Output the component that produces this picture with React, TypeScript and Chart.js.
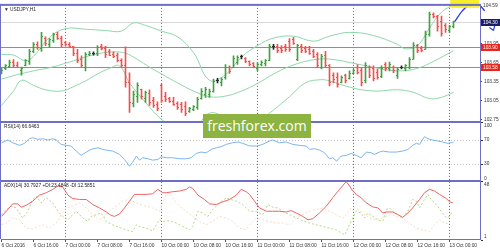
import React, { useEffect, useRef } from "react";
import { Chart, registerables } from "chart.js";

Chart.register(...registerables);

const FONT = "'Liberation Sans', Arial, sans-serif";

const chartTitle = "\u25BC USDJPY,H1";
const rsiLegend = "RSI(14) 66.6463";
const adxLegend = "ADX(14) 30.7927 +DI:23.4848 -DI:12.5851";
const logoText = "freshforex.com";

const dateTickIdx = [0, 8, 16, 24, 32, 40, 48, 56, 64, 72, 80, 88, 96, 104, 112];
const dateTickLabels = [
  "6 Oct 2016", "6 Oct 16:00", "7 Oct 00:00", "7 Oct 08:00", "7 Oct 16:00",
  "10 Oct 00:00", "10 Oct 08:00", "10 Oct 16:00", "11 Oct 00:00", "11 Oct 08:00",
  "11 Oct 16:00", "12 Oct 00:00", "12 Oct 08:00", "12 Oct 16:00", "13 Oct 00:00",
];
const dayStarts = [16, 40, 64, 88, 112];

const priceTicks = [104.25, 103.95, 103.65, 103.35, 103.05, 102.75];
const rsiTicks = [100, 70, 30, 0];
const rsiLevels = [70, 30];
const adxTicks = [48, 1];

const levelPrices = [103.9, 103.58];
const levelLabels = ["103.90", "103.58"];
const bidPrice = 104.3;
const bidLabel = "104.30";
const topPrice = 104.59;
const topLabel = "104.59";
const noteBoxFrom = 112.2;
const noteBoxPrice = 104.52;

// OHLC, hourly bars from 6 Oct 08:00
const barOpen = [
  103.49, 103.55, 103.59, 103.66, 103.61, 103.52, 103.61, 103.67, 103.83, 103.93,
  103.88, 104.04, 103.94, 104.0, 104.1, 104.04, 103.97, 103.94, 103.9, 103.8,
  103.7, 103.58, 103.78, 103.79, 103.79, 103.9, 103.88, 103.82, 103.78, 103.76,
  103.69, 103.6, 103.33, 103.0, 103.12, 103.22, 103.08, 103.16, 103.05, 102.98,
  103.28, 103.12, 103.08, 103.04, 103.0, 102.98, 102.95, 102.87, 102.91, 102.94,
  103.08, 103.15, 103.14, 103.2, 103.36, 103.33, 103.41, 103.57, 103.58, 103.66,
  103.74, 103.72, 103.67, 103.63, 103.56, 103.62, 103.63, 103.69, 103.9, 103.91,
  103.88, 103.9, 103.98, 104.02, 103.7, 103.91, 103.88, 103.86, 103.82, 103.78,
  103.58, 103.76, 103.6, 103.45, 103.42, 103.34, 103.44, 103.4, 103.48, 103.58,
  103.52, 103.36, 103.58, 103.55, 103.5, 103.43, 103.62, 103.55, 103.58, 103.45,
  103.57, 103.55, 103.58, 103.7, 103.92, 103.88, 103.86, 104.1, 104.42, 104.38,
  104.3, 104.24, 104.16, 104.22,
];
const barHigh = [
  103.57, 103.62, 103.69, 103.7, 103.66, 103.58, 103.7, 103.86, 103.97, 103.98,
  104.13, 104.06, 104.03, 104.12, 104.13, 104.07, 103.99, 103.97, 103.91, 103.86,
  103.76, 103.81, 103.83, 103.82, 103.92, 103.94, 103.91, 103.86, 103.82, 103.8,
  103.71, 103.9, 103.49, 103.2, 103.33, 103.23, 103.2, 103.22, 103.1, 103.03,
  103.31, 103.18, 103.1, 103.1, 103.03, 103.02, 103.03, 102.94, 102.97, 103.1,
  103.24, 103.26, 103.23, 103.39, 103.4, 103.41, 103.62, 103.6, 103.76, 103.76,
  103.77, 103.73, 103.68, 103.65, 103.65, 103.68, 103.7, 103.94, 103.94, 103.94,
  103.92, 103.94, 104.03, 104.05, 103.94, 103.94, 103.91, 103.91, 103.86, 103.81,
  103.78, 103.83, 103.62, 103.49, 103.49, 103.44, 103.47, 103.52, 103.55, 103.62,
  103.57, 103.65, 103.6, 103.6, 103.55, 103.6, 103.65, 103.66, 103.6, 103.57,
  103.6, 103.62, 103.73, 103.97, 103.94, 103.91, 104.15, 104.45, 104.44, 104.4,
  104.39, 104.27, 104.24, 104.31,
];
const barLow = [
  103.47, 103.54, 103.57, 103.57, 103.57, 103.45, 103.6, 103.62, 103.81, 103.86,
  103.83, 103.92, 103.89, 103.97, 104.02, 103.9, 103.91, 103.89, 103.76, 103.65,
  103.57, 103.52, 103.76, 103.77, 103.76, 103.85, 103.73, 103.76, 103.73, 103.66,
  103.57, 103.26, 102.86, 102.95, 103.02, 103.07, 103.02, 102.97, 102.94, 102.89,
  103.02, 103.03, 103.02, 102.97, 102.91, 102.86, 102.81, 102.86, 102.89, 102.91,
  103.07, 103.1, 103.1, 103.18, 103.33, 103.28, 103.39, 103.48, 103.57, 103.62,
  103.71, 103.65, 103.6, 103.57, 103.52, 103.6, 103.6, 103.68, 103.86, 103.81,
  103.81, 103.83, 103.83, 103.94, 103.68, 103.81, 103.81, 103.78, 103.73, 103.57,
  103.55, 103.57, 103.28, 103.33, 103.26, 103.33, 103.33, 103.39, 103.47, 103.47,
  103.28, 103.33, 103.41, 103.36, 103.39, 103.41, 103.52, 103.52, 103.49, 103.4,
  103.55, 103.52, 103.55, 103.7, 103.81, 103.82, 103.86, 104.07, 104.36, 104.15,
  104.07, 104.13, 104.13, 104.2,
];
const barClose = [
  103.53, 103.6, 103.66, 103.6, 103.58, 103.56, 103.68, 103.83, 103.93, 103.89,
  104.06, 103.95, 104.01, 104.1, 104.04, 103.93, 103.93, 103.9, 103.79, 103.68,
  103.6, 103.78, 103.8, 103.79, 103.89, 103.87, 103.78, 103.77, 103.75, 103.69,
  103.6, 103.33, 103.02, 103.15, 103.28, 103.12, 103.17, 103.02, 102.97, 102.92,
  103.05, 103.06, 103.03, 102.99, 102.94, 102.9, 102.84, 102.92, 102.95, 103.06,
  103.2, 103.22, 103.2, 103.35, 103.36, 103.39, 103.58, 103.51, 103.72, 103.73,
  103.74, 103.67, 103.62, 103.59, 103.62, 103.66, 103.68, 103.9, 103.9, 103.85,
  103.84, 103.86, 103.86, 103.96, 103.92, 103.84, 103.83, 103.8, 103.75, 103.6,
  103.74, 103.6, 103.33, 103.38, 103.3, 103.41, 103.36, 103.48, 103.53, 103.5,
  103.34, 103.6, 103.45, 103.4, 103.42, 103.56, 103.55, 103.62, 103.52, 103.54,
  103.57, 103.6, 103.7, 103.92, 103.85, 103.84, 104.1, 104.42, 104.38, 104.22,
  104.12, 104.17, 104.22, 104.3,
];

// Bollinger bands: [bar index, price]
const bbUpper: [number, number][] = [
  [0, 103.78], [3, 103.77], [6, 103.68], [8, 103.75], [12, 104.05], [16, 104.19], [21, 104.18],
  [26, 104.16], [30, 104.15], [33, 104.28], [36, 104.24], [40, 104.15], [44, 104.06], [48, 103.81],
  [52, 103.37], [56, 103.46], [60, 103.74], [64, 103.92], [68, 104.04], [73, 104.07], [78, 103.99],
  [82, 104.07], [87, 104.13], [93, 104.08], [99, 103.94], [101, 103.87], [104, 103.92], [107, 104.2],
  [110, 104.45], [113, 104.57],
];
const bbMiddle: [number, number][] = [
  [0, 103.39], [4, 103.46], [8, 103.52], [12, 103.57], [16, 103.64], [20, 103.72], [24, 103.79],
  [28, 103.82], [31, 103.8], [34, 103.7], [37, 103.58], [40, 103.47], [44, 103.33], [48, 103.2],
  [52, 103.11], [56, 103.12], [60, 103.2], [64, 103.32], [68, 103.47], [72, 103.59], [76, 103.67],
  [80, 103.71], [84, 103.69], [88, 103.64], [92, 103.59], [96, 103.54], [100, 103.52], [104, 103.56],
  [108, 103.67], [113, 103.84],
];
const bbLower: [number, number][] = [
  [0, 102.97], [3, 103.2], [5, 103.37], [8, 103.29], [11, 103.22], [15, 103.2], [18, 103.27],
  [21, 103.36], [24, 103.47], [27, 103.56], [29.5, 103.6], [32, 103.33], [36, 103.02], [40, 102.75],
  [44, 102.6], [48, 102.59], [52, 102.85], [56, 102.78], [60, 102.66], [64, 102.72], [68, 102.9],
  [72, 103.11], [76, 103.33], [80, 103.38], [82, 103.36], [86, 103.28], [90, 103.22], [94, 103.2],
  [99, 103.22], [103, 103.18], [107, 103.08], [110, 103.1], [113, 103.18],
];

// hand-drawn forecast arrow
const forecastPath: [number, number][] = [
  [113.3, 104.3], [115.2, 104.47], [117, 104.57], [119, 104.58], [120.8, 104.47], [122, 104.33], [123, 104.16],
];

const rsiLine: [number, number][] = [
  [0, 65.5], [1.6, 70.1], [2.8, 65.5], [4.5, 61], [5.75, 64.4], [7, 72.3], [7.8, 74], [9.1, 71.2],
  [10.3, 72.3], [11.6, 70.1], [12.8, 72.3], [13.7, 70.1], [14.9, 62.7], [16.2, 61], [17.4, 59.8],
  [18.7, 51.3], [19.9, 43.9], [21.2, 49.6], [22.4, 54.1], [24.1, 57], [25.3, 54.1], [26.2, 53],
  [27.8, 51.3], [29.5, 45.6], [30.75, 37], [32, 25.6], [32.8, 32.5], [33.7, 42.7], [34.5, 35.9],
  [35.3, 39.9], [36.6, 38.2], [37.8, 35.9], [39.1, 37], [39.9, 41.6], [41.2, 39.9], [42.8, 39.9],
  [44.5, 38.2], [46.2, 38.2], [47.4, 39.9], [48.7, 47.3], [49.9, 49.6], [51.2, 48.4], [52.4, 54.1],
  [53.7, 57], [54.9, 58.7], [56.2, 62.7], [57.8, 65.5], [59.1, 66.7], [60.3, 64.4], [62, 60],
  [63.7, 59.8], [65.3, 62.7], [67, 68.4], [67.8, 70.1], [69.5, 65.5], [71.2, 66.7], [72.8, 62.7],
  [74.5, 61], [76.2, 59.8], [77, 54.1], [78.25, 55.3], [79.5, 53], [80.75, 48.4], [82, 38.2],
  [82.8, 39.9], [83.8, 34.2], [84.9, 42.7], [86.2, 43.9], [87.4, 47.3], [88.7, 43.9], [89.9, 39.9],
  [91.2, 49.6], [92.4, 48.4], [93.25, 45.6], [94.5, 49.6], [95.3, 51.3], [97, 49.6], [98.7, 49.6],
  [100.3, 51.3], [101.6, 54.1], [102.8, 61], [103.7, 64.4], [104.5, 62.7], [105.75, 75.8],
  [106.6, 72.3], [107.8, 70.1], [109.1, 68.4], [110.3, 66.7], [111.6, 64.4], [112.4, 65.5], [113, 66.6],
];

const adxLine: [number, number][] = [
  [0, 19.9], [1.2, 24], [2.8, 29.9], [4.1, 29.9], [4.9, 27.2], [6.2, 28.8], [7.8, 32.05], [9.5, 36.9],
  [11.2, 38.8], [12.8, 41.5], [14.1, 44.2], [15.3, 43.4], [16.6, 36.9], [17.8, 34.2], [19.5, 33.4],
  [21.2, 33.4], [22.8, 29.35], [24.5, 26.65], [26.2, 23.4], [27.4, 20.7], [28.25, 19.9], [29.5, 21.8],
  [30.75, 26.65], [32, 32.05], [33.25, 37.45], [34.5, 37.45], [36.2, 37.45], [37.8, 38], [39.1, 41.5],
  [40.3, 38.8], [41.2, 38.8], [42.8, 39.6], [44.5, 40.15], [46.2, 41.5], [47, 43.4], [47.8, 42.3],
  [49.1, 36.9], [50.75, 33.4], [52, 29.9], [53.7, 29.35], [55.3, 31.5], [57, 33.4], [58.7, 36.9],
  [59.9, 41.5], [61.2, 39.6], [62, 37.45], [63.25, 32.05], [64.5, 26.65], [66.2, 24], [67.8, 24],
  [69.5, 24], [71.2, 23.4], [72.4, 24.5], [73.7, 22.6], [75.3, 19.9], [76.6, 17.2], [77.8, 18],
  [79.5, 22.6], [81.2, 28], [82.8, 34.75], [84.5, 41.5], [86.2, 47.8], [87, 44.2], [87.8, 40.15],
  [88.7, 37.45], [89.9, 34.75], [91.2, 30.7], [92.8, 27.5], [94.1, 26.65], [95.3, 22.6], [96.2, 23.4],
  [97.8, 23.4], [99.1, 21.25], [100.3, 19.1], [101.6, 22.6], [102.8, 26.65], [104.5, 33.4],
  [105.75, 38.8], [107, 41.5], [108.25, 40.15], [109.5, 37.45], [111.2, 34.2], [112, 31.5], [112.8, 30.8],
];

const plusDiLine: [number, number][] = [
  [0, 21.25], [1.2, 25.3], [2.4, 28], [3.7, 26.65], [5.3, 18.55], [6.6, 24], [7.8, 33.4], [8.7, 36.1],
  [9.9, 30.7], [11.2, 34.75], [12.8, 30.7], [14.1, 24], [15.3, 19.9], [16.6, 17.2], [17.4, 19.9],
  [18.7, 24], [20.3, 18.55], [21.6, 15.85], [22.4, 19.9], [23.7, 21.25], [24.9, 22.6], [26.2, 15.85],
  [27.8, 13.15], [29.5, 11], [31.2, 9.1], [32.8, 7.75], [33.7, 13.15], [34.5, 11.8], [36.2, 10.45],
  [37.8, 8.3], [39.5, 17.2], [40.3, 15.85], [42, 16.4], [43.7, 14.5], [45.3, 11.8], [47, 9.1],
  [47.8, 11.8], [49.1, 24], [50.3, 22.6], [51.6, 19.9], [52.8, 25.3], [54.5, 30.7], [56.2, 34.75],
  [57.4, 33.4], [58.7, 32.05], [60.3, 29.35], [62, 24], [63.7, 24], [65.3, 21.25], [66.6, 29.35],
  [67.8, 27.2], [69.1, 26.65], [70.3, 24], [72, 21.25], [73.7, 18.55], [75.3, 16.4], [77, 14.5],
  [78.7, 13.15], [80.3, 11.8], [82, 10.45], [83.7, 9.1], [85.75, 5.05], [86.6, 10.45], [87.8, 18.55],
  [88.7, 24], [89.9, 22.6], [90.75, 18.55], [91.6, 22.6], [92.8, 19.9], [94.1, 17.2], [95.3, 15.85],
  [96.2, 25.3], [97, 26.65], [97.8, 24], [99.1, 21.25], [100.3, 19.1], [101.6, 24], [102.8, 33.4],
  [103.7, 32.05], [104.5, 26.65], [105.75, 33.4], [106.6, 37.45], [107.4, 33.4], [108.7, 29.35],
  [109.9, 24], [111.2, 18.55], [112, 19.9], [112.8, 24],
];

const minusDiLine: [number, number][] = [
  [0, 13.15], [1.2, 14.5], [2.8, 18.55], [4.5, 17.2], [6.2, 10.45], [7.8, 9.9], [10.3, 13.15],
  [12, 10.45], [14.1, 15.85], [14.9, 21.25], [16.2, 26.65], [17.8, 28], [19.5, 30.7], [21.2, 26.65],
  [22.8, 21.25], [24.1, 17.2], [25.3, 18.55], [27, 24], [28.7, 28], [30.3, 32.05], [31.6, 33.4],
  [32.8, 32.05], [34.5, 29.35], [36.2, 28], [37.8, 26.65], [39.5, 24], [41.2, 37.45], [42, 38.8],
  [42.8, 34.75], [44.5, 28], [46.2, 24], [47.8, 19.9], [49.5, 15.85], [51.2, 13.15], [52.8, 15.85],
  [54.5, 19.9], [56.2, 18.55], [57.8, 15.85], [59.5, 10.45], [61.2, 9.1], [62, 13.15], [63.7, 18.55],
  [65.3, 17.2], [67, 15.85], [68.7, 14.5], [70.3, 14.5], [72, 13.15], [73.7, 18.55], [75.3, 21.25],
  [77, 24], [78.7, 25.3], [80.3, 26.65], [82, 24], [83.7, 21.25], [85.3, 18.55], [86.2, 21.25],
  [87.4, 26.65], [88.7, 26.65], [90.3, 22.6], [92, 18.55], [93.7, 17.2], [95.3, 18.55], [97, 21.25],
  [98.7, 19.9], [100.3, 18.55], [102, 14.5], [103.7, 10.45], [105.3, 9.1], [107, 7.75], [108.25, 13.15],
  [109.5, 17.2], [110.75, 14.5], [112, 13.7],
];

const GREEN = "#45a045";
const RED = "#f05252";
const DOJI = "#2a2a2a";
const FRAME = "#6e6ec4";
const BAND = "#8fd6ab";

const pts = (arr: [number, number][]) => arr.map(([x, y]) => ({ x, y }));
const barColor = (i: number) =>
  barClose[i] > barOpen[i] ? GREEN : barClose[i] < barOpen[i] ? RED : DOJI;

const mtPlugin = {
  id: "mtDecor",
  beforeDatasetsDraw(chart: any) {
    const { ctx, chartArea: a, scales } = chart;
    const ym = scales.yMain;
    const yr = scales.yRsi;
    const x = scales.x;
    ctx.save();
    ctx.lineWidth = 1;
    // day separators
    ctx.setLineDash([1, 2]);
    ctx.strokeStyle = "#5a5aa8";
    dayStarts.forEach((d) => {
      const px = Math.floor(x.getPixelForValue(d)) + 0.5;
      ctx.beginPath();
      ctx.moveTo(px, a.top);
      ctx.lineTo(px, a.bottom);
      ctx.stroke();
    });
    // RSI levels
    ctx.strokeStyle = "#c4c4c4";
    rsiLevels.forEach((v) => {
      const py = Math.round(yr.getPixelForValue(v)) + 0.5;
      ctx.beginPath();
      ctx.moveTo(a.left, py);
      ctx.lineTo(a.right, py);
      ctx.stroke();
    });
    ctx.setLineDash([]);
    // bid line
    let py = Math.round(ym.getPixelForValue(bidPrice)) + 0.5;
    ctx.strokeStyle = "#d9d9d9";
    ctx.beginPath();
    ctx.moveTo(a.left, py);
    ctx.lineTo(a.right, py);
    ctx.stroke();
    // horizontal levels
    ctx.strokeStyle = "#f06666";
    levelPrices.forEach((p) => {
      py = Math.round(ym.getPixelForValue(p)) + 0.5;
      ctx.beginPath();
      ctx.moveTo(a.left, py);
      ctx.lineTo(a.right, py);
      ctx.stroke();
    });
    ctx.restore();
  },
  beforeDatasetDraw(chart: any, args: any) {
    const ds = chart.data.datasets[args.index];
    if (ds.label === "forecast") return;
    const ys = args.meta.yScale;
    const a = chart.chartArea;
    chart.ctx.save();
    chart.ctx.beginPath();
    chart.ctx.rect(a.left, ys.top, a.right - a.left, ys.bottom - ys.top);
    chart.ctx.clip();
  },
  afterDatasetDraw(chart: any, args: any) {
    const ds = chart.data.datasets[args.index];
    if (ds.label === "forecast") return;
    chart.ctx.restore();
  },
  afterDatasetsDraw(chart: any) {
    const { ctx, chartArea: a, scales } = chart;
    const x = scales.x;
    const ym = scales.yMain;
    ctx.save();
    ctx.beginPath();
    ctx.rect(a.left, ym.top, a.right - a.left, ym.bottom - ym.top);
    ctx.clip();
    for (let i = 0; i < barOpen.length; i++) {
      const col = Math.round(x.getPixelForValue(i) - 0.5);
      ctx.fillStyle = barColor(i);
      const oy = Math.floor(ym.getPixelForValue(barOpen[i]));
      const cy = Math.floor(ym.getPixelForValue(barClose[i]));
      ctx.fillRect(col - 1, oy, 1, 1);
      ctx.fillRect(col + 1, cy, 1, 1);
    }
    ctx.restore();

    // arrow head of the forecast line
    const fIdx = chart.data.datasets.findIndex((d: any) => d.label === "forecast");
    const meta = chart.getDatasetMeta(fIdx);
    const n = meta.data.length;
    if (n > 1) {
      const p1 = meta.data[n - 2];
      const p2 = meta.data[n - 1];
      const ang = Math.atan2(p2.y - p1.y, p2.x - p1.x);
      ctx.save();
      ctx.strokeStyle = "#2b3fd6";
      ctx.lineWidth = 1.2;
      ctx.beginPath();
      [-0.6, 0.6].forEach((d) => {
        ctx.moveTo(p2.x, p2.y);
        ctx.lineTo(p2.x - 5 * Math.cos(ang + d), p2.y - 5 * Math.sin(ang + d));
      });
      ctx.stroke();
      ctx.restore();
    }

    // yellow note box
    ctx.save();
    ctx.fillStyle = "#f6ee2a";
    const bx = x.getPixelForValue(noteBoxFrom);
    const by = ym.getPixelForValue(noteBoxPrice);
    ctx.fillRect(bx, 0, a.right - 1 - bx, by);
    ctx.restore();
  },
  afterDraw(chart: any) {
    const { ctx, chartArea: a, scales } = chart;
    const ym = scales.yMain;
    const yr = scales.yRsi;
    const ya = scales.yAdx;
    const W = chart.width;
    ctx.save();
    // frame
    ctx.fillStyle = FRAME;
    ctx.fillRect(a.left, a.top - 1, a.right - a.left, 2);
    ctx.fillRect(a.left, Math.round(yr.top) - 1, a.right - a.left, 2);
    ctx.fillRect(a.left, Math.round(ya.top) - 1, a.right - a.left, 2);
    ctx.fillRect(a.left, Math.round(a.bottom) - 1, a.right - a.left + 1, 1);
    ctx.fillRect(a.left - 1, a.top - 1, 1, a.bottom - a.top);
    ctx.fillRect(Math.round(a.right), a.top - 1, 1, a.bottom - a.top + 1);

    ctx.font = `4.8px ${FONT}`;
    ctx.textAlign = "left";
    // RSI & ADX axis labels
    const side = (scale: any, ticks: number[]) => {
      ticks.forEach((v) => {
        const y = scale.getPixelForValue(v);
        ctx.fillStyle = "#333";
        ctx.fillRect(Math.round(a.right) + 1, Math.round(y), 2, 1);
        if (v === scale.max) {
          ctx.textBaseline = "top";
          ctx.fillText(String(v), a.right + 4, y + 1);
        } else if (v === scale.min) {
          ctx.textBaseline = "bottom";
          ctx.fillText(String(v), a.right + 4, y - 0.5);
        } else {
          ctx.textBaseline = "middle";
          ctx.fillText(String(v), a.right + 4, y);
        }
      });
    };
    side(yr, rsiTicks);
    side(ya, adxTicks);

    // price boxes on axis
    const box = (p: number, txt: string, bg: string) => {
      const y = Math.round(ym.getPixelForValue(p));
      ctx.fillStyle = bg;
      ctx.fillRect(Math.round(a.right) + 1, y - 3, W - a.right - 1, 7);
      ctx.fillStyle = "#fff";
      ctx.textBaseline = "middle";
      ctx.fillText(txt, a.right + 3, y + 0.5);
    };
    levelPrices.forEach((p, k) => box(p, levelLabels[k], "#e8261c"));
    box(bidPrice, bidLabel, "#1c1c66");
    ctx.fillStyle = "#333";
    ctx.textBaseline = "top";
    ctx.fillText(topLabel, a.right + 3, Math.max(0, ym.getPixelForValue(topPrice)));

    // legends
    ctx.fillStyle = "#222";
    ctx.textBaseline = "top";
    ctx.fillText(chartTitle, a.left + 3, a.top + 2);
    ctx.fillText(rsiLegend, a.left + 3, yr.top + 2);
    ctx.fillText(adxLegend, a.left + 3, ya.top + 2);
    ctx.restore();
  },
};

export default function App() {
  const ref = useRef<HTMLCanvasElement>(null);
  useEffect(() => {
    document.body.style.margin = "0";
    const canvas = ref.current;
    if (!canvas) return;
    const chart = new Chart(canvas, {
      type: "line",
      data: {
        datasets: [
          {
            type: "bar",
            label: "range",
            data: barHigh.map((h, i) => ({ x: i, y: [barLow[i], h] })) as any,
            backgroundColor: barHigh.map((_, i) => barColor(i)),
            barThickness: 1,
            yAxisID: "yMain",
            order: 1,
          } as any,
          { label: "bbUpper", data: pts(bbUpper), yAxisID: "yMain", borderColor: BAND, borderWidth: 1, pointRadius: 0, tension: 0.4, order: 2 },
          { label: "bbMiddle", data: pts(bbMiddle), yAxisID: "yMain", borderColor: BAND, borderWidth: 1, pointRadius: 0, tension: 0.4, order: 2 },
          { label: "bbLower", data: pts(bbLower), yAxisID: "yMain", borderColor: BAND, borderWidth: 1, pointRadius: 0, tension: 0.4, order: 2 },
          { label: "forecast", data: pts(forecastPath), yAxisID: "yMain", borderColor: "#2b3fd6", borderWidth: 1.3, pointRadius: 0, tension: 0.4, clip: false as any, order: 0 },
          { label: "rsi", data: pts(rsiLine), yAxisID: "yRsi", borderColor: "#7cb6f0", borderWidth: 1, pointRadius: 0, order: 2 },
          { label: "minusDI", data: pts(minusDiLine), yAxisID: "yAdx", borderColor: "#f6dcc6", borderWidth: 1, borderDash: [2, 2], pointRadius: 0, order: 3 },
          { label: "plusDI", data: pts(plusDiLine), yAxisID: "yAdx", borderColor: "#b6d884", borderWidth: 1, borderDash: [2, 2], pointRadius: 0, order: 3 },
          { label: "adx", data: pts(adxLine), yAxisID: "yAdx", borderColor: "#f06464", borderWidth: 1, pointRadius: 0, order: 2 },
        ],
      },
      options: {
        responsive: false,
        animation: false,
        events: [],
        layout: { padding: { top: 2, left: 1, right: 0, bottom: 0 } },
        plugins: { legend: { display: false }, tooltip: { enabled: false } },
        scales: {
          x: {
            type: "linear",
            min: -0.125,
            max: 119.625,
            offset: false,
            afterBuildTicks: (s: any) => {
              s.ticks = dateTickIdx.map((v) => ({ value: v }));
            },
            afterFit: (s: any) => {
              s.height = 10;
              s.paddingLeft = 0;
              s.paddingRight = 0;
            },
            grid: { display: true, drawOnChartArea: false, drawTicks: true, tickLength: 2, tickColor: "#555", offset: false },
            border: { display: false },
            ticks: {
              align: "start",
              autoSkip: false,
              maxRotation: 0,
              minRotation: 0,
              padding: 1,
              color: "#333",
              font: { size: 4.8, family: FONT },
              callback: (v: any) => {
                const k = dateTickIdx.indexOf(Number(v));
                return k >= 0 ? dateTickLabels[k] : "";
              },
            },
          },
          yMain: {
            type: "linear",
            position: "right",
            stack: "panels",
            stackWeight: 119,
            min: 102.702,
            max: 104.566,
            offset: false,
            afterBuildTicks: (s: any) => {
              s.ticks = priceTicks.map((v) => ({ value: v }));
            },
            afterFit: (s: any) => {
              s.width = 20;
            },
            grid: { drawOnChartArea: false, drawTicks: true, tickLength: 2, tickColor: "#444" },
            border: { display: false },
            ticks: {
              autoSkip: false,
              padding: 2,
              color: "#333",
              font: { size: 4.8, family: FONT },
              callback: (v: any) => Number(v).toFixed(2),
            },
          },
          yRsi: {
            type: "linear",
            position: "right",
            stack: "panels",
            stackWeight: 59.5,
            min: 0,
            max: 100,
            offset: false,
            afterFit: (s: any) => {
              s.width = 20;
            },
            grid: { display: false },
            border: { display: false },
            ticks: { display: false },
          },
          yAdx: {
            type: "linear",
            position: "right",
            stack: "panels",
            stackWeight: 59.5,
            min: 1,
            max: 48,
            offset: false,
            afterFit: (s: any) => {
              s.width = 20;
            },
            grid: { display: false },
            border: { display: false },
            ticks: { display: false },
          },
        },
      } as any,
      plugins: [mtPlugin],
    });
    return () => chart.destroy();
  }, []);

  return (
    <div style={{ position: "relative", width: 500, height: 250, overflow: "hidden", background: "#fff" }}>
      <canvas ref={ref} width={500} height={250} style={{ display: "block", width: 500, height: 250 }} />
      <div
        style={{
          position: "absolute",
          left: 203,
          top: 114,
          width: 108,
          height: 24,
          background: "#8db441",
          color: "#fff",
          fontFamily: "'Open Sans', sans-serif",
          fontSize: 14,
          lineHeight: "24px",
          textAlign: "center",
        }}
      >
        {logoText}
      </div>
    </div>
  );
}
